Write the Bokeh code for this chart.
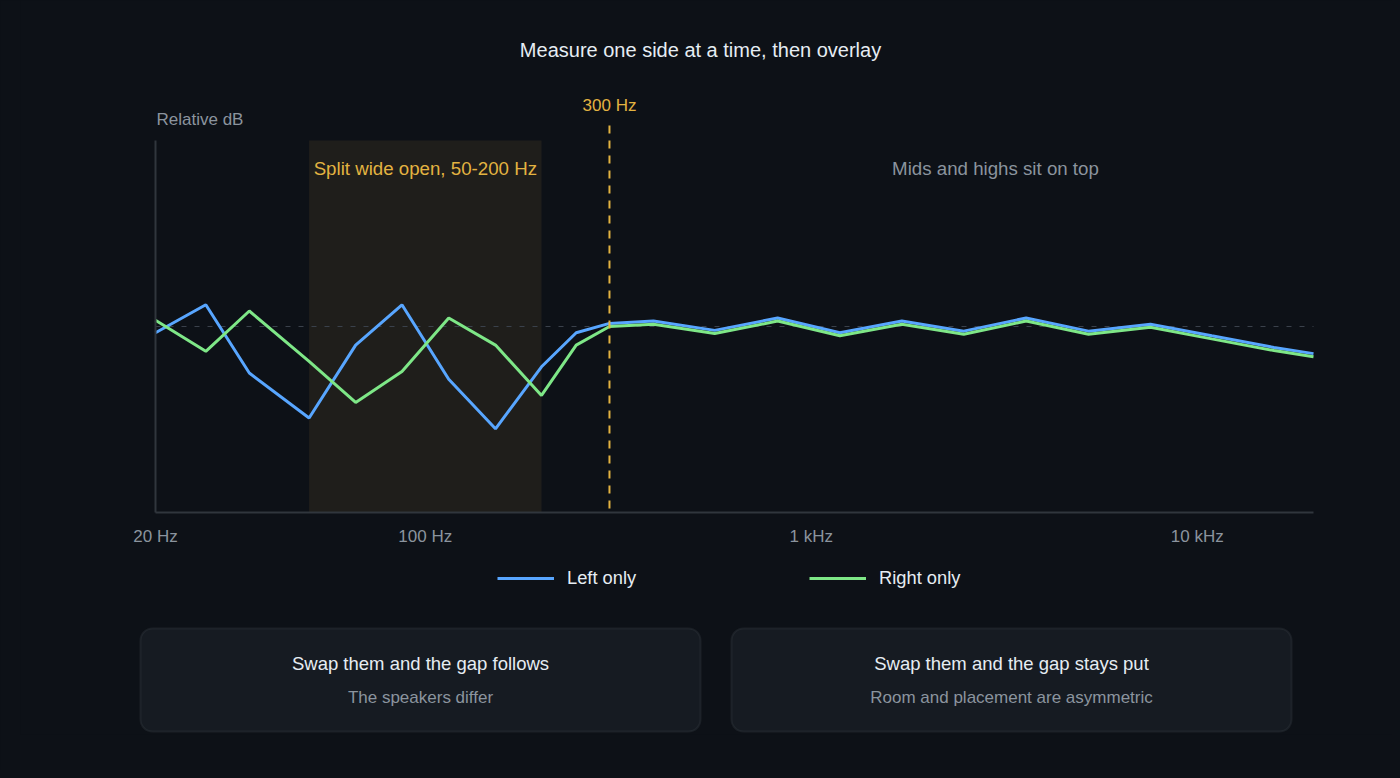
import math
from bokeh.plotting import figure
from bokeh.models import Range1d, FixedTicker, BoxAnnotation, Label, Legend, LegendItem, Arrow
from bokeh.embed import file_html
from bokeh.resources import INLINE

# ---------------- data ----------------
freq_hz = [20, 27, 35, 50, 66, 87, 115, 152, 200, 246, 300, 390, 562, 818,
           1186, 1716, 2483, 3602, 5226, 7561, 10900, 15800, 20000]
left_db = [-0.4, 1.4, -3.0, -5.9, -1.2, 1.4, -3.4, -6.6, -2.6, -0.4, 0.2, 0.35,
           -0.25, 0.55, -0.4, 0.35, -0.3, 0.55, -0.3, 0.15, -0.6, -1.35, -1.75]
right_db = [0.4, -1.6, 1.0, -2.25, -4.9, -2.9, 0.55, -1.2, -4.45, -1.2, 0.0, 0.15,
            -0.45, 0.35, -0.6, 0.15, -0.5, 0.35, -0.5, -0.05, -0.8, -1.55, -1.95]
series_names = ["Left only", "Right only"]
x_ticks = [20, 100, 1000, 10000]
x_tick_labels = ["20 Hz", "100 Hz", "1 kHz", "10 kHz"]
x_bounds = [20, 20000]
y_bounds = [-12, 12]
band_hz = [50, 200]
band_label = "Split wide open, 50-200 Hz"
crossover_hz = 300
crossover_label = "300 Hz"
flat_label = "Mids and highs sit on top"
flat_label_hz = 3000
title_text = "Measure one side at a time, then overlay"
y_label = "Relative dB"
box_titles = ["Swap them and the gap follows", "Swap them and the gap stays put"]
box_subtitles = ["The speakers differ", "Room and placement are asymmetric"]

# ---------------- style / layout ----------------
BG = "#0d1117"
BOX_BG = "#161b22"
BOX_LINE = "#3b4149"
AXIS = "#30363d"
ZERO = "#3a414b"
BLUE = "#58a6ff"
GREEN = "#7ee787"
ORANGE = "#e3b341"
TEXT = "#e6edf3"
MUTED = "#8b949e"
FONT = "Liberation Sans"

W, H = 1392, 770
FRAME_L, FRAME_T = 20, 0          # frame covers nearly the whole canvas
FRAME_R, FRAME_B = W, H - 36
CL, CR, CT, CB = 155, 1313, 140, 512   # chart area (px)

decade_px = (CR - CL) / math.log10(x_bounds[1] / x_bounds[0])
x_start = 10 ** (math.log10(x_bounds[0]) - (CL - FRAME_L) / decade_px)
x_end = 10 ** (math.log10(x_bounds[1]) + (FRAME_R - CR) / decade_px)
db_per_px = (y_bounds[1] - y_bounds[0]) / (CB - CT)
y_start = y_bounds[0] - (FRAME_B - CB) * db_per_px
y_end = y_bounds[1] + (CT - FRAME_T) * db_per_px

def sx(px):
    return px - FRAME_L

def sy(py):
    return FRAME_B - py

p = figure(width=W, height=H, x_axis_type="log",
           x_range=Range1d(x_start, x_end), y_range=Range1d(y_start, y_end),
           output_backend="svg", toolbar_location=None,
           min_border_left=FRAME_L, min_border_right=W - FRAME_R,
           min_border_top=FRAME_T, min_border_bottom=H - FRAME_B,
           background_fill_color=BG, border_fill_color=BG, outline_line_color=None)
p.grid.visible = False

xa = p.xaxis[0]
xa.fixed_location = y_bounds[0]
xa.bounds = tuple(x_bounds)
xa.ticker = FixedTicker(ticks=x_ticks)
xa.major_label_overrides = {t: l for t, l in zip(x_ticks, x_tick_labels)}
xa.major_tick_line_color = None
xa.minor_tick_line_color = None
xa.major_tick_out = 0
xa.minor_tick_out = 0
xa.axis_line_color = AXIS
xa.axis_line_width = 2
xa.major_label_text_color = MUTED
xa.major_label_text_font = FONT
xa.major_label_text_font_size = "17px"
xa.major_label_standoff = 14

ya = p.yaxis[0]
ya.fixed_location = x_bounds[0]
ya.bounds = tuple(y_bounds)
ya.ticker = FixedTicker(ticks=[])
ya.major_tick_line_color = None
ya.minor_tick_line_color = None
ya.major_tick_out = 0
ya.minor_tick_out = 0
ya.major_label_standoff = 0
ya.major_label_text_font_size = "0px"
ya.axis_line_color = AXIS
ya.axis_line_width = 2

p.add_layout(BoxAnnotation(left=band_hz[0], right=band_hz[1],
                           bottom=y_bounds[0], top=y_bounds[1], fill_color=ORANGE,
                           fill_alpha=0.085, line_color=None, level="underlay"))
p.add_layout(Arrow(start=None, end=None, x_start=x_bounds[0], x_end=x_bounds[1],
                   y_start=0, y_end=0, line_color=ZERO, line_width=1,
                   line_dash="5 8", level="underlay"))

r_left = p.line(freq_hz, left_db, line_color=BLUE, line_width=3)
r_right = p.line(freq_hz, right_db, line_color=GREEN, line_width=3)

p.add_layout(Arrow(start=None, end=None, x_start=crossover_hz, x_end=crossover_hz,
                   y_start=y_bounds[1] + 15 * db_per_px, y_end=y_bounds[0],
                   line_color=ORANGE, line_width=2, line_dash="8 7"))

def lab(text, x, y, color, size, xu="screen", align="center"):
    return Label(x=x, y=y, x_units=xu, y_units="screen", text=text,
                 text_color=color, text_font=FONT, text_font_size=size,
                 text_align=align, text_baseline="middle")

p.add_layout(lab(title_text, sx(700), sy(49), TEXT, "20px"))
p.add_layout(lab(y_label, sx(156), sy(119), MUTED, "17px", align="left"))
p.add_layout(lab(crossover_label, crossover_hz, sy(105), ORANGE, "17px", xu="data"))
p.add_layout(lab(band_label, (band_hz[0] * band_hz[1]) ** 0.5, sy(168), ORANGE, "18.7px", xu="data"))
p.add_layout(lab(flat_label, flat_label_hz, sy(168), MUTED, "18.7px", xu="data"))

legend = Legend(items=[LegendItem(label=series_names[0], renderers=[r_left]),
                       LegendItem(label=series_names[1], renderers=[r_right])],
                orientation="horizontal", location=(sx(497), sy(589)),
                glyph_width=57, glyph_height=20, label_standoff=13, spacing=173,
                padding=0, margin=0, label_height=20,
                background_fill_alpha=0, border_line_color=None,
                label_text_font=FONT, label_text_font_size="18.3px", label_text_color=TEXT)
p.add_layout(legend, "center")

# ---------------- cards ----------------
card_lefts = [140, 731]
card_width = 560
card_top, card_bottom = 628, 731
for cl, t, s in zip(card_lefts, box_titles, box_subtitles):
    p.add_layout(BoxAnnotation(left=sx(cl), right=sx(cl + card_width),
                               top=sy(card_top), bottom=sy(card_bottom),
                               left_units="screen", right_units="screen",
                               top_units="screen", bottom_units="screen",
                               fill_color=BOX_BG, fill_alpha=1, line_color=BOX_LINE,
                               line_width=2, border_radius=12))
    cx = sx(cl + card_width / 2)
    p.add_layout(lab(t, cx, sy(663), TEXT, "18.5px"))
    p.add_layout(lab(s, cx, sy(697), MUTED, "17px"))

html = file_html(p, INLINE)
html = html.replace("<head>", "<head><style>body{background:%s;}</style>" % BG, 1)
open("out.html", "w").write(html)
